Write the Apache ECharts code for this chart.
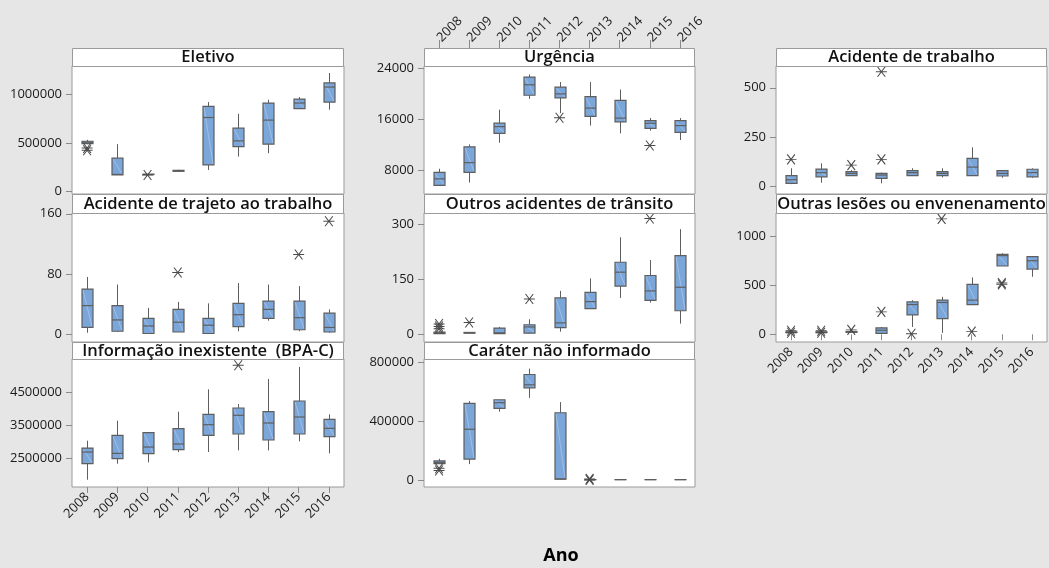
<!DOCTYPE html>
<html><head><meta charset="utf-8">
<script src="https://cdn.jsdelivr.net/npm/echarts@6/dist/echarts.min.js"></script>
<style>html,body{margin:0;padding:0;background:#e6e6e6}#c{width:1049px;height:568px}</style>
</head><body><div id="c"></div><script>
const years = ['2008','2009','2010','2011','2012','2013','2014','2015','2016'];
const xTitle = 'Ano';

// box stats per year: [min, q1, median, q3, max]
const eletivoBox = [[490000,495000,510000,520000,535000],[172000,172000,178000,345000,490000],[175000,176000,178000,180000,182000],[205000,210000,215000,220000,226000],[224000,276000,765000,879000,924000],[362000,465000,524000,655000,803000],[397000,490000,738000,914000,948000],[855000,857000,914000,955000,976000],[845000,924000,1079000,1121000,1224000]];
const eletivoOut = [['2008',450000],['2008',428000],['2010',172000]];
const eletivoTicks = [0,500000,1000000];

const trajetoBox = [[2,9,38,60,76],[3,4,19,38,66],[1,1,11,21,35],[3,3,16,33,43],[1,1,12,21,41],[4,10,26,41,68],[18,21,33,44,66],[4,6,22,44,64],[2,3,9,28,33]];
const trajetoOut = [['2011',82],['2015',106],['2016',150]];
const trajetoTicks = [0,80,160];

const infoBox = [[1870000,2350000,2700000,2820000,3040000],[2350000,2500000,2660000,3200000,3640000],[2390000,2650000,2850000,3280000,3280000],[2700000,2770000,2940000,3400000,3910000],[2700000,3200000,3520000,3830000,4580000],[2750000,3240000,3800000,4020000,4140000],[2750000,3060000,3570000,3910000,4890000],[3020000,3240000,3750000,4230000,5250000],[2660000,3160000,3410000,3680000,3830000]];
const infoOut = [['2013',5300000]];
const infoTicks = [2500000,3500000,4500000];

const urgBox = [[5615,5650,6675,7680,8265],[6090,7680,9220,11710,12080],[12350,13830,14890,15420,17540],[19240,19820,21460,22680,23100],[17000,19400,20030,21090,21890],[15050,16480,17800,19610,21890],[13830,15630,16220,19020,20720],[14250,14620,15420,15840,16220],[12770,13990,15050,15840,16220]];
const urgOut = [['2012',16270],['2015',11920]];
const urgTicks = [8000,16000,24000];

const transitoBox = [[1,2,4,6,10],[2,3,4,5,6],[1,2,4,17,20],[2,3,20,26,41],[7,18,31,99,118],[70,70,89,114,152],[99,131,169,196,264],[86,92,118,160,202],[29,64,128,214,286]];
const transitoOut = [['2008',28],['2008',21],['2008',15],['2009',32],['2011',96],['2015',315]];
const transitoTicks = [0,150,300];

const caraterBox = [[112000,112000,120000,130000,144000],[108000,142000,344000,519000,535000],[463000,485000,524000,544000,544000],[557000,625000,645000,715000,755000],[5000,7000,7000,456000,528000],[3000,3000,3000,3000,3000],[3000,3000,3000,3000,3000],[3000,3000,3000,3000,3000],[3000,3000,3000,3000,3000]];
const caraterOut = [['2008',80000],['2008',65000],['2013',8000],['2013',0]];
const caraterTicks = [0,400000,800000];

const trabalhoBox = [[13,17,35,56,93],[20,50,71,89,118],[54,56,67,76,84],[17,42,59,67,71],[54,56,71,81,93],[47,56,67,76,93],[56,56,99,143,199],[45,54,67,81,84],[45,50,71,88,93]];
const trabalhoOut = [['2008',138],['2010',109],['2011',138],['2011',581]];
const trabalhoTicks = [0,250,500];

const lesoesBox = [[15,18,20,24,28],[15,18,20,24,28],[18,20,24,28,32],[7,10,41,65,75],[75,198,304,332,349],[14,161,325,349,383],[304,304,349,510,581],[698,698,804,817,828],[588,667,752,793,800]];
const lesoesOut = [['2008',35],['2008',15],['2009',35],['2009',15],['2010',45],['2011',229],['2012',5],['2013',1180],['2014',27],['2015',525],['2015',510]];
const lesoesTicks = [0,500,1000];

const panels = [
  {title:'Eletivo', box:eletivoBox, out:eletivoOut, ticks:eletivoTicks, col:0, row:0, min:-24000, max:1296000, xl:null},
  {title:'Acidente de trajeto ao trabalho', box:trajetoBox, out:trajetoOut, ticks:trajetoTicks, col:0, row:1, min:-10.3, max:161, xl:null},
  {title:'Informação inexistente  (BPA-C)', box:infoBox, out:infoOut, ticks:infoTicks, col:0, row:2, min:1652000, max:5488000, xl:'bottom'},
  {title:'Urgência', box:urgBox, out:urgOut, ticks:urgTicks, col:1, row:0, min:4294, max:24414, xl:'top'},
  {title:'Outros acidentes de trânsito', box:transitoBox, out:transitoOut, ticks:transitoTicks, col:1, row:1, min:-21, max:330, xl:null},
  {title:'Caráter não informado', box:caraterBox, out:caraterOut, ticks:caraterTicks, col:1, row:2, min:-47000, max:820000, xl:null},
  {title:'Acidente de trabalho', box:trabalhoBox, out:trabalhoOut, ticks:trabalhoTicks, col:2, row:0, min:-37, max:610, xl:null},
  {title:'Outras lesões ou envenenamento', box:lesoesBox, out:lesoesOut, ticks:lesoesTicks, col:2, row:1, min:-79, max:1240, xl:'bottom'}
];

const colLeft = [72, 424, 776], colWidth = [272, 271, 271];
const rowHead = [48, 194, 342], rowTop = [66, 213, 359], rowBottom = [194, 342, 487];
const FONT = "'Open Sans', 'Noto Sans', sans-serif";
const BORDER = '#9a9a9a';
const STAR = 'path://M0,5L10,5M1.5,0L8.5,10M1.5,10L8.5,0';

function renderBox(params, api) {
  const x = api.value(0);
  const v = [1,2,3,4,5].map(i => api.value(i));
  const p = v.map(val => api.coord([x, val]));
  const cx = Math.round(p[0][0]) + 0.5;
  const hw = 5.5;
  const st = {stroke:'#5e5e5e', lineWidth:1};
  const yTop = p[3][1], yBot = p[1][1];
  const h = Math.max(yBot - yTop, 0.01);
  return {type:'group', children:[
    {type:'line', shape:{x1:cx, y1:p[4][1], x2:cx, y2:yTop}, style:st},
    {type:'line', shape:{x1:cx, y1:yBot, x2:cx, y2:p[0][1]}, style:st},
    {type:'rect', shape:{x:cx-hw, y:yTop, width:hw*2, height:h}, style:{fill:'#7ba6da', stroke:'#5e5e5e', lineWidth:1.2}},
    {type:'line', shape:{x1:cx-hw+1, y1:yTop+1, x2:cx+hw-1, y2:yBot-1}, style:{stroke:'rgba(255,255,255,0.35)', lineWidth:0.8}, invisible: h < 6},
    {type:'line', shape:{x1:cx-hw, y1:p[2][1], x2:cx+hw, y2:p[2][1]}, style:{stroke:'#5e5e5e', lineWidth:1.2}}
  ]};
}

const grid = [], xAxis = [], yAxis = [], series = [], graphic = [];
panels.forEach((pn, i) => {
  const left = colLeft[pn.col], width = colWidth[pn.col];
  const top = rowTop[pn.row], bottom = rowBottom[pn.row];
  grid.push({left:left, top:top, width:width, height:bottom-top, show:true, backgroundColor:'#fff', borderColor:BORDER, borderWidth:1, containLabel:false});
  const showX = !!pn.xl;
  const isTop = pn.xl === 'top';
  xAxis.push({type:'category', gridIndex:i, data:years, boundaryGap:true,
    position: isTop ? 'top' : 'bottom',
    offset: isTop ? (top - rowHead[pn.row]) : 0,
    axisLine:{show:false},
    axisTick:{show:showX, alignWithLabel:true, length: isTop ? 8 : 6, lineStyle:{color:'#8a8a8a'}},
    axisLabel:{show:showX, rotate: 45, fontSize:13, color:'#1a1a1a', fontFamily:FONT, margin:8, interval:0},
    splitLine:{show:false}});
  yAxis.push({type:'value', gridIndex:i, min:pn.min, max:pn.max,
    axisLine:{show:false},
    axisTick:{show:true, customValues:pn.ticks, length:6, lineStyle:{color:'#8a8a8a'}},
    axisLabel:{customValues:pn.ticks, formatter: v => String(v), fontSize:13, color:'#1a1a1a', fontFamily:FONT, margin:10},
    splitLine:{show:false}});
  series.push({type:'custom', xAxisIndex:i, yAxisIndex:i, renderItem:renderBox,
    encode:{x:0, y:[1,2,3,4,5]}, clip:false,
    data: pn.box.map((s, k) => [k].concat(s)), z:2});
  series.push({type:'scatter', xAxisIndex:i, yAxisIndex:i, symbol:STAR, symbolSize:[11,10],
    itemStyle:{color:'rgba(0,0,0,0)', borderColor:'#4a4a4a', borderWidth:1, opacity:1},
    data: pn.out, z:3, silent:true});
  const hTop = rowHead[pn.row];
  graphic.push({type:'rect', shape:{x:left+0.5, y:hTop+0.5, width:width-1, height:top-hTop}, style:{fill:'#fff', stroke:BORDER, lineWidth:1}, z:10});
  graphic.push({type:'text', x:left+width/2, y:hTop+(top-hTop)/2+0.5, style:{text:pn.title, fill:'#111', font:'600 16.5px ' + FONT, textAlign:'center', textVerticalAlign:'middle'}, z:11});
});
graphic.push({type:'text', x:561, y:556, style:{text:xTitle, fill:'#000', font:'bold 18px ' + FONT, textAlign:'center', textVerticalAlign:'middle'}, z:11});

const chart = echarts.init(document.getElementById('c'), null, {renderer:'canvas'});
chart.setOption({backgroundColor:'#e6e6e6', animation:false, grid, xAxis, yAxis, series, graphic});
// top axis labels: rotate so they rise to the upper right, starting at the tick
const opt = chart.getOption();
opt.xAxis[3].axisLabel.rotate = -45;
chart.setOption({xAxis: opt.xAxis});
</script></body></html>
